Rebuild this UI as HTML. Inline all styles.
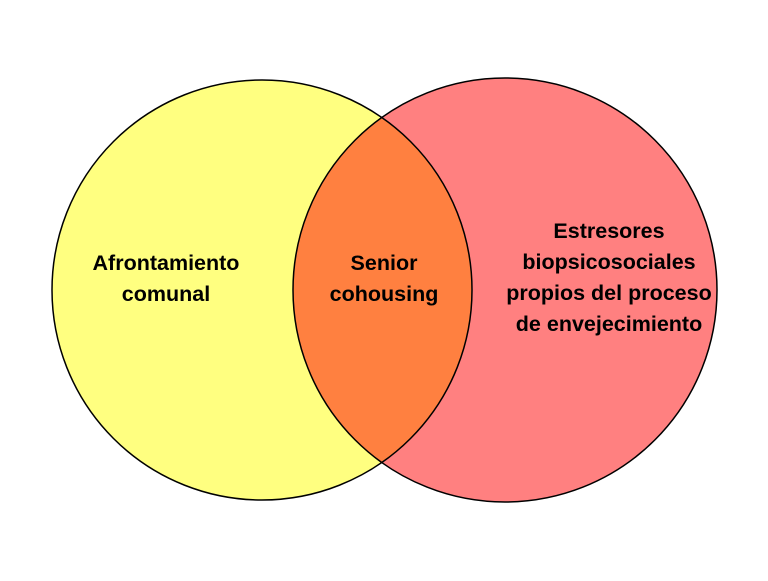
<!DOCTYPE html>
<html><head><style>
body{margin:0;width:768px;height:576px;background:#fff;overflow:hidden}
svg text{font-family:"Liberation Sans",sans-serif;font-weight:bold;font-size:21.5px;fill:#000}
</style></head><body>
<svg width="768" height="576" viewBox="0 0 768 576">
<defs>
<clipPath id="c"><circle cx="262" cy="290" r="210"/></clipPath>
</defs>
<circle cx="262" cy="290" r="210" fill="#FFFF80"/>
<circle cx="505" cy="290" r="212" fill="#FF8080"/>
<circle cx="505" cy="290" r="212" fill="#FF8040" clip-path="url(#c)"/>
<circle cx="262" cy="290" r="210" fill="none" stroke="#000" stroke-width="1.5"/>
<circle cx="505" cy="290" r="212" fill="none" stroke="#000" stroke-width="1.5"/>
<text x="166" y="270" text-anchor="middle">Afrontamiento</text>
<text x="166" y="301" text-anchor="middle">comunal</text>
<text x="384" y="270" text-anchor="middle">Senior</text>
<text x="384" y="301" text-anchor="middle">cohousing</text>
<text x="609" y="238" text-anchor="middle">Estresores</text>
<text x="609" y="269" text-anchor="middle">biopsicosociales</text>
<text x="609" y="300" text-anchor="middle">propios del proceso</text>
<text x="609" y="331" text-anchor="middle">de envejecimiento</text>
</svg>
</body></html>
